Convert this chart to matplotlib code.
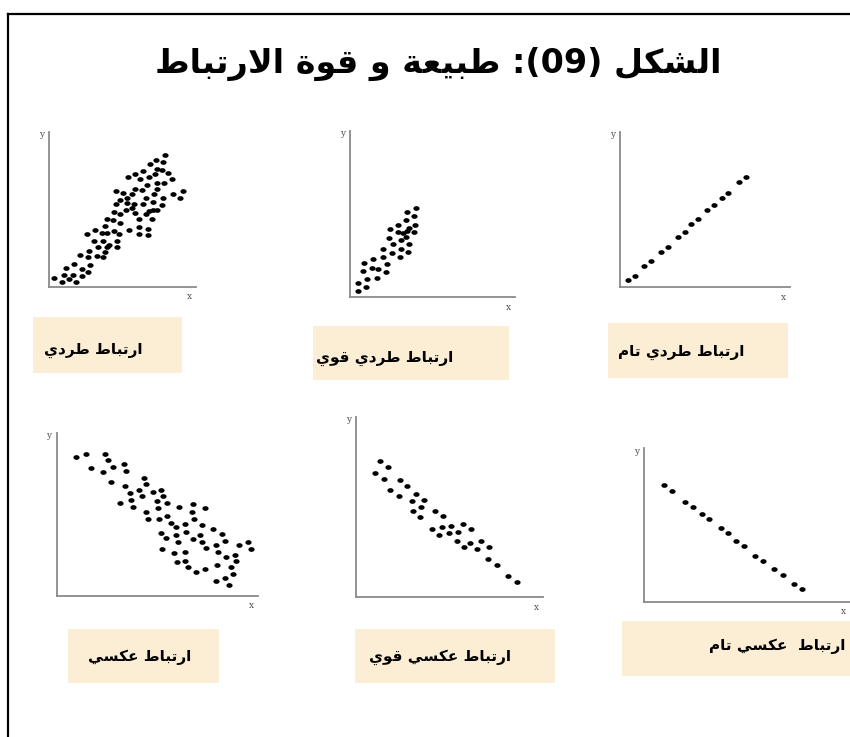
import matplotlib
matplotlib.use("Agg")
import matplotlib.pyplot as plt
from matplotlib.patches import Rectangle
from matplotlib.path import Path

W, H = 850, 737

# --- scatter data (arbitrary units, origin at the axes corner) ---
pos_x = [16, 38, 61, 81, 46, 73, 98, 118, 51, 75, 98, 123, 93, 116, 143, 163, 168, 121, 148, 175,
         203, 161, 181, 135, 113, 138, 158, 173, 195, 211, 203, 241, 271, 298, 271, 298, 168, 193,
         213, 175, 196, 213, 231, 248, 258, 270, 291, 308, 313, 200, 213, 235, 256, 201, 221, 235,
         248, 258, 278, 291, 313, 315, 323, 343, 293, 273, 238, 258, 283, 301, 318, 325, 345, 368,
         303, 323, 338, 358, 321, 348, 343, 373, 393, 401, 281, 323, 301, 338]
pos_y = [25, 15, 22, 13, 35, 35, 32, 45, 57, 68, 53, 65, 95, 90, 92, 90, 103, 107, 120, 120,
         118, 138, 125, 138, 157, 170, 160, 160, 168, 158, 138, 170, 180, 172, 158, 155, 182, 200,
         192, 202, 225, 220, 232, 238, 222, 202, 218, 202, 232, 248, 260, 252, 250, 288, 282, 268,
         278, 295, 290, 268, 255, 280, 295, 268, 305, 325, 330, 340, 348, 330, 338, 312, 313, 325,
         370, 355, 352, 343, 382, 395, 375, 278, 268, 288, 250, 230, 228, 245]

strong_pos_x = [25, 48, 25, 50, 82, 38, 65, 85, 108, 42, 68, 110, 98, 125, 150, 175, 100, 128,
                153, 178, 118, 153, 168, 145, 120, 172, 192, 160, 178, 145, 168, 195, 192, 170, 198]
strong_pos_y = [19, 32, 42, 55, 59, 79, 89, 84, 77, 104, 114, 99, 121, 134, 122, 135, 145, 159,
                145, 159, 179, 172, 182, 195, 205, 199, 195, 194, 207, 217, 232, 217, 245, 257, 269]

perfect_pos_x = [25, 45, 73, 93, 123, 145, 175, 195, 213, 233, 260, 282, 305, 325, 357, 377]
perfect_pos_y = [22, 35, 64, 79, 107, 122, 150, 167, 189, 204, 232, 247, 269, 284, 317, 332]

neg_x = [58, 88, 145, 153, 103, 138, 170, 203, 208, 163, 205, 263, 268, 248, 220, 288, 313, 190,
         223, 255, 300, 318, 333, 228, 268, 305, 368, 410, 447, 408, 275, 308, 333, 413, 345, 358,
         385, 438, 390, 313, 358, 328, 430, 470, 498, 365, 410, 438, 448, 505, 478, 548, 576, 583,
         315, 352, 385, 485, 510, 535, 540, 363, 385, 395, 418, 445, 483, 525, 530, 480, 507, 517]
neg_y = [416, 426, 426, 406, 383, 371, 386, 394, 373, 342, 328, 352, 335, 316, 308, 312, 318, 278,
         286, 298, 283, 298, 278, 266, 252, 263, 266, 275, 263, 252, 231, 231, 240, 231, 220, 206,
         215, 212, 193, 188, 183, 173, 183, 200, 185, 162, 170, 162, 145, 165, 152, 153, 161, 142,
         142, 130, 132, 133, 118, 124, 104, 101, 106, 88, 72, 80, 92, 88, 66, 46, 55, 34]

strong_neg_x = [72, 97, 57, 84, 132, 154, 102, 130, 180, 205, 167, 194, 170, 192, 237, 262, 227,
                257, 250, 284, 280, 307, 322, 345, 302, 342, 325, 375, 364, 399, 397, 422, 457, 482]
strong_neg_y = [407, 390, 372, 355, 352, 334, 320, 304, 309, 292, 289, 270, 257, 240, 257, 242,
                206, 210, 187, 214, 192, 197, 220, 204, 170, 164, 150, 169, 145, 152, 114, 96, 65, 45]

perfect_neg_x = [61, 85, 123, 148, 173, 196, 230, 253, 276, 300, 333, 358, 391, 416, 450, 475]
perfect_neg_y = [350, 333, 300, 285, 263, 247, 220, 205, 183, 167, 138, 123, 97, 80, 53, 37]

labels = ["ارتباط طردي", "ارتباط طردي قوي", "ارتباط طردي تام",
          "ارتباط عكسي", "ارتباط عكسي قوي", "ارتباط  عكسي تام"]
title = "الشكل (09): طبيعة و قوة الارتباط"

# --- minimal Arabic shaping: presentation forms (iso, final, initial, medial) ---
FORMS = {
    'ا': ('\uFE8D', '\uFE8E', None, None),
    'ب': ('\uFE8F', '\uFE90', '\uFE91', '\uFE92'),
    'ة': ('\uFE93', '\uFE94', None, None),
    'ت': ('\uFE95', '\uFE96', '\uFE97', '\uFE98'),
    'د': ('\uFEA9', '\uFEAA', None, None),
    'ر': ('\uFEAD', '\uFEAE', None, None),
    'س': ('\uFEB1', '\uFEB2', '\uFEB3', '\uFEB4'),
    'ش': ('\uFEB5', '\uFEB6', '\uFEB7', '\uFEB8'),
    'ط': ('\uFEC1', '\uFEC2', '\uFEC3', '\uFEC4'),
    'ع': ('\uFEC9', '\uFECA', '\uFECB', '\uFECC'),
    'ق': ('\uFED5', '\uFED6', '\uFED7', '\uFED8'),
    'ك': ('\uFED9', '\uFEDA', '\uFEDB', '\uFEDC'),
    'ل': ('\uFEDD', '\uFEDE', '\uFEDF', '\uFEE0'),
    'م': ('\uFEE1', '\uFEE2', '\uFEE3', '\uFEE4'),
    'و': ('\uFEED', '\uFEEE', None, None),
    'ي': ('\uFEF1', '\uFEF2', '\uFEF3', '\uFEF4'),
    'لا': ('\uFEFB', '\uFEFC', None, None),
}
MIRROR = {'(': ')', ')': '('}


def shape_word(word):
    units, i = [], 0
    while i < len(word):
        if word[i] == 'ل' and word[i + 1:i + 2] == 'ا':
            units.append('لا'); i += 2
        else:
            units.append(word[i]); i += 1
    out = []
    for j, c in enumerate(units):
        if c not in FORMS:
            out.append(c); continue
        iso, fin, ini, med = FORMS[c]
        prev = units[j - 1] if j > 0 else None
        nxt = units[j + 1] if j + 1 < len(units) else None
        jp = prev in FORMS and FORMS[prev][2] is not None
        jn = ini is not None and nxt in FORMS
        out.append(med if jp and jn else fin if jp else ini if jn else iso)
    return out


def rtl(text):
    # shape, then lay out right-to-left keeping digit runs in order
    glyphs = shape_word(text)
    runs, cur = [], ''
    for g in glyphs:
        if g.isdigit():
            cur += g
        else:
            if cur:
                runs.append(cur); cur = ''
            runs.append(MIRROR.get(g, g))
    if cur:
        runs.append(cur)
    return ''.join(runs[::-1])


panels = [
    (pos_x, pos_y, (49, 132, 196, 286.7), 441, 465),
    (strong_pos_x, strong_pos_y, (350, 131, 515, 297.3), 495, 499),
    (perfect_pos_x, perfect_pos_y, (620, 131.7, 790, 287.3), 510, 467),
    (neg_x, neg_y, (56.7, 433, 258, 596), 605, 488),
    (strong_neg_x, strong_neg_y, (356, 417, 543.3, 597.3), 562, 540),
    (perfect_neg_x, perfect_neg_y, (644, 448.3, 850, 601.7), 618, 460),
]

# label boxes: (left, top, right, bottom), text right edge, text centre y
boxes = [
    ((32.7, 317.3, 181.7, 372.7), 142, 350),
    ((312.7, 326, 509, 380), 453, 358),
    ((608.3, 322.7, 787.7, 377.7), 744, 352),
    ((68, 629, 219, 683), 191, 657),
    ((355, 629, 555, 683), 511, 657),
    ((622, 621, 850, 676), 845, 646),
]

fig = plt.figure(figsize=(W / 100, H / 100), dpi=100)
fig.patch.set_facecolor('white')

# page frame (top and left rules)
fig.add_artist(plt.Line2D([8 / W, 1], [1 - 13.5 / H, 1 - 13.5 / H], color='black', lw=1.6,
                          transform=fig.transFigure))
fig.add_artist(plt.Line2D([8 / W, 8 / W], [0, 1 - 13.5 / H], color='black', lw=1.6,
                          transform=fig.transFigure))

ar_font = ['DejaVu Sans']
fig.text(438 / W, 1 - 64 / H, rtl(title), ha='center', va='center', fontsize=24,
         fontweight='bold', family=ar_font)

blob = Path.unit_circle().transformed(matplotlib.transforms.Affine2D().scale(1.25, 0.95))

for xs, ys, (l, t, r, b), xmax, ymax in panels:
    ax = fig.add_axes([l / W, 1 - b / H, (r - l) / W, (b - t) / H])
    ax.scatter(xs, ys, s=20, marker=blob, color='black', linewidths=0, clip_on=False)
    ax.set_xlim(0, xmax)
    ax.set_ylim(0, ymax)
    ax.set_xticks([]); ax.set_yticks([])
    for side in ('top', 'right'):
        ax.spines[side].set_visible(False)
    for side in ('left', 'bottom'):
        ax.spines[side].set_color('#8a8a8a')
        ax.spines[side].set_linewidth(1.3)
    ax.patch.set_alpha(0)
    ax.annotate('y', xy=(0, 1), xycoords='axes fraction', xytext=(-5.5, -2),
                textcoords='offset points', ha='center', va='center',
                fontsize=6.5, family='DejaVu Serif', color='#555555')
    ax.annotate('x', xy=(1, 0), xycoords='axes fraction', xytext=(-5, -7),
                textcoords='offset points', ha='center', va='center',
                fontsize=6.5, family='DejaVu Serif', color='#555555')

for ((l, t, r, b), tx, ty), lab in zip(boxes, labels):
    fig.add_artist(Rectangle((l / W, 1 - b / H), (r - l) / W, (b - t) / H,
                             facecolor='#fcedd5', edgecolor='none', transform=fig.transFigure))
    fig.text(tx / W, 1 - ty / H, rtl(lab), ha='right', va='center', fontsize=11,
             fontweight='bold', family=ar_font)

fig.savefig('out.png', dpi=100)
